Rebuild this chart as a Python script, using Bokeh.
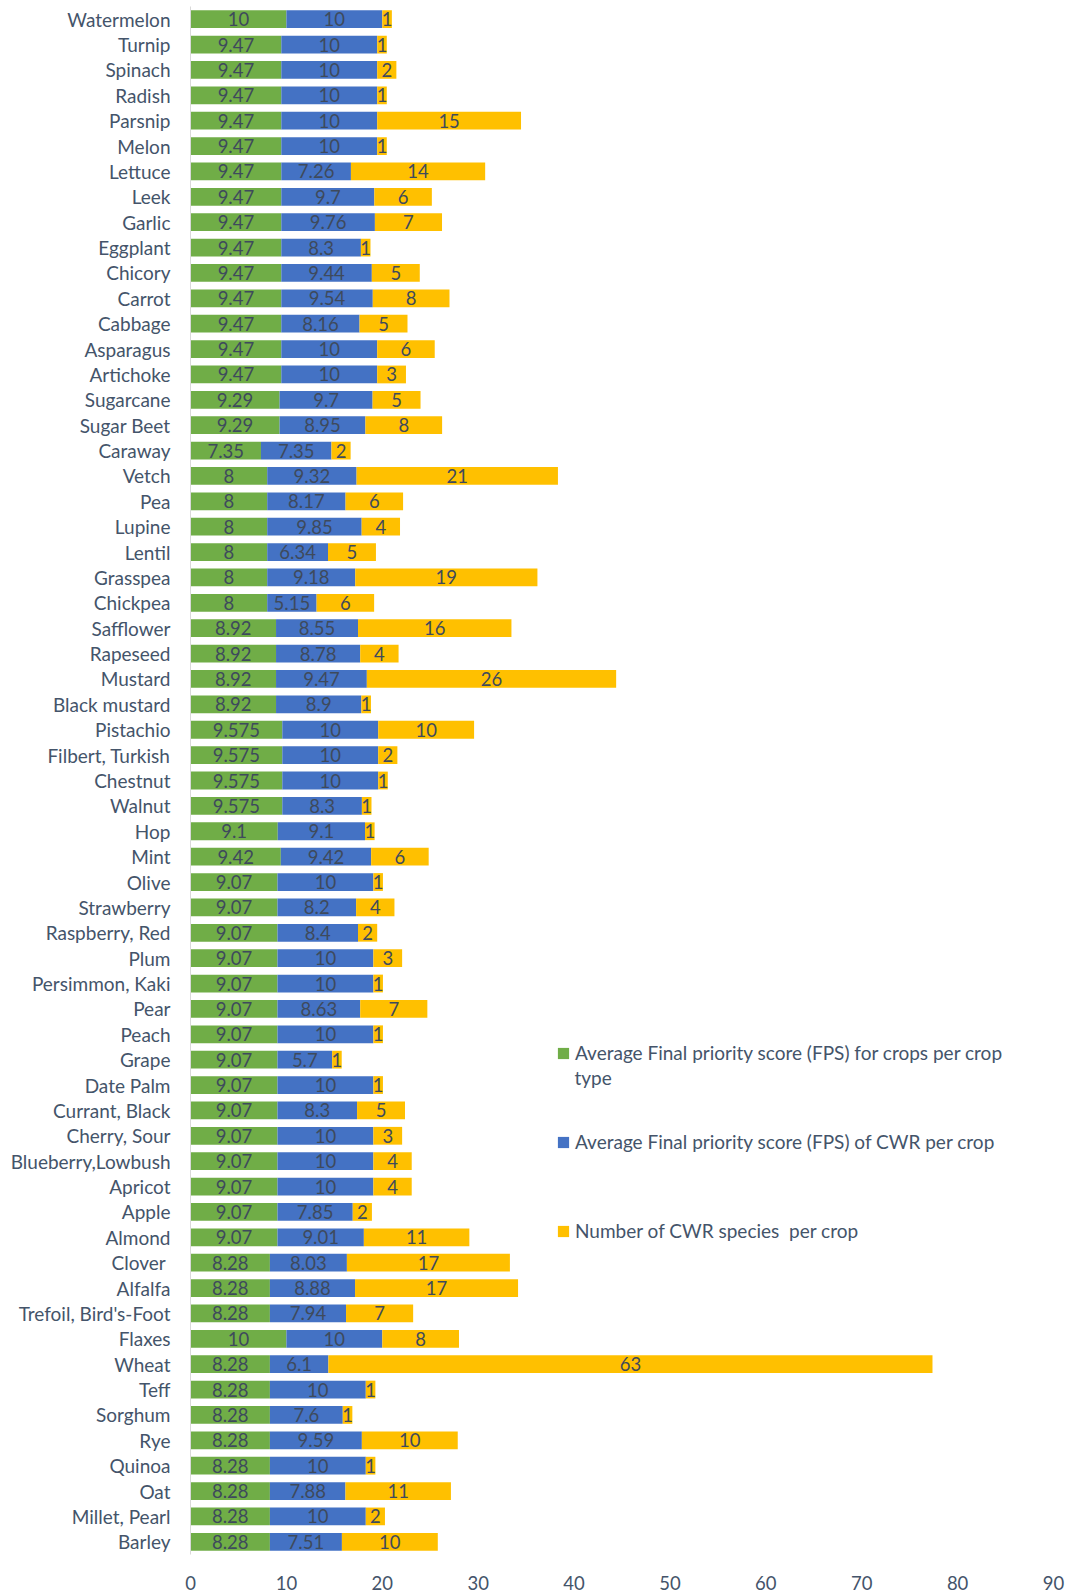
from bokeh.plotting import figure
from bokeh.models import ColumnDataSource, FactorRange, Range1d, FixedTicker, Legend, LegendItem, Label
from bokeh.core.properties import value
from bokeh.embed import file_html
from bokeh.resources import INLINE
import numpy as np

crops = ["Watermelon", "Turnip", "Spinach", "Radish", "Parsnip", "Melon", "Lettuce", "Leek", "Garlic",
         "Eggplant", "Chicory", "Carrot", "Cabbage", "Asparagus", "Artichoke", "Sugarcane", "Sugar Beet",
         "Caraway", "Vetch", "Pea", "Lupine", "Lentil", "Grasspea", "Chickpea", "Safflower", "Rapeseed",
         "Mustard", "Black mustard", "Pistachio", "Filbert, Turkish", "Chestnut", "Walnut", "Hop", "Mint",
         "Olive", "Strawberry", "Raspberry, Red", "Plum", "Persimmon, Kaki", "Pear", "Peach", "Grape",
         "Date Palm", "Currant, Black", "Cherry, Sour", "Blueberry,Lowbush", "Apricot", "Apple", "Almond",
         "Clover ", "Alfalfa", "Trefoil, Bird's-Foot", "Flaxes", "Wheat", "Teff", "Sorghum", "Rye", "Quinoa",
         "Oat", "Millet, Pearl", "Barley"]

fps_crop = [10, 9.47, 9.47, 9.47, 9.47, 9.47, 9.47, 9.47, 9.47,
            9.47, 9.47, 9.47, 9.47, 9.47, 9.47, 9.29, 9.29,
            7.35, 8, 8, 8, 8, 8, 8, 8.92, 8.92,
            8.92, 8.92, 9.575, 9.575, 9.575, 9.575, 9.1, 9.42,
            9.07, 9.07, 9.07, 9.07, 9.07, 9.07, 9.07, 9.07,
            9.07, 9.07, 9.07, 9.07, 9.07, 9.07, 9.07,
            8.28, 8.28, 8.28, 10, 8.28, 8.28, 8.28, 8.28, 8.28,
            8.28, 8.28, 8.28]

fps_cwr = [10, 10, 10, 10, 10, 10, 7.26, 9.7, 9.76,
           8.3, 9.44, 9.54, 8.16, 10, 10, 9.7, 8.95,
           7.35, 9.32, 8.17, 9.85, 6.34, 9.18, 5.15, 8.55, 8.78,
           9.47, 8.9, 10, 10, 10, 8.3, 9.1, 9.42,
           10, 8.2, 8.4, 10, 10, 8.63, 10, 5.7,
           10, 8.3, 10, 10, 10, 7.85, 9.01,
           8.03, 8.88, 7.94, 10, 6.1, 10, 7.6, 9.59, 10,
           7.88, 10, 7.51]

n_cwr = [1, 1, 2, 1, 15, 1, 14, 6, 7,
         1, 5, 8, 5, 6, 3, 5, 8,
         2, 21, 6, 4, 5, 19, 6, 16, 4,
         26, 1, 10, 2, 1, 1, 1, 6,
         1, 4, 2, 3, 1, 7, 1, 1,
         1, 5, 3, 4, 4, 2, 11,
         17, 17, 7, 8, 63, 1, 1, 10, 1,
         11, 2, 10]

x_ticks = [0, 10, 20, 30, 40, 50, 60, 70, 80, 90]

series_names = ["Average Final priority score (FPS) for crops per crop type",
                "Average Final priority score (FPS) of CWR per crop",
                "Number of CWR species  per crop"]
colors = ["#70AD47", "#4472C4", "#FFC000"]

FONT = "Lato"
TXT = "#44546A"

a = np.array(fps_crop, dtype=float)
b = np.array(fps_cwr, dtype=float)
c = np.array(n_cwr, dtype=float)

source = ColumnDataSource(data=dict(crop=crops, fps_crop=a, fps_cwr=b, n_cwr=c))

p = figure(width=1072, height=1592, output_backend="svg", toolbar_location=None,
           y_range=FactorRange(factors=list(reversed(crops)), range_padding=0),
           x_range=Range1d(0, 90),
           min_border_left=190, min_border_right=19, min_border_top=6, min_border_bottom=38)

renderers = p.hbar_stack(["fps_crop", "fps_cwr", "n_cwr"], y="crop", height=0.7,
                         color=colors, line_color=None, source=source)

# segment labels
lab_x = np.concatenate([a / 2, a + b / 2, a + b + c / 2])
lab_y = crops * 3
lab_t = ["{:g}".format(v) for v in np.concatenate([a, b, c])]
lsrc = ColumnDataSource(data=dict(x=lab_x, y=lab_y, t=lab_t))
p.text(x="x", y="y", text="t", source=lsrc, text_align="center", text_baseline="middle",
       text_font=value(FONT), text_font_size="18.5px", text_color="#3E4A5C")

p.xgrid.visible = False
p.ygrid.visible = False
p.outline_line_color = None

p.xaxis.ticker = FixedTicker(ticks=x_ticks)
p.xaxis.axis_line_color = None
p.xaxis.major_tick_line_color = None
p.xaxis.minor_tick_line_color = None
p.xaxis.major_label_standoff = 15
p.xaxis.major_label_text_font = FONT
p.xaxis.major_label_text_font_size = "18.5px"
p.xaxis.major_label_text_color = TXT

p.yaxis.axis_line_color = "#D9D9D9"
p.yaxis.major_tick_line_color = None
p.yaxis.minor_tick_line_color = None
p.yaxis.major_label_standoff = 14
p.yaxis.major_label_text_font = FONT
p.yaxis.major_label_text_font_size = "19px"
p.yaxis.major_label_text_color = TXT

legend_labels = ["Average Final priority score (FPS) for crops per crop",
                 series_names[1], series_names[2]]
legend_y = [490, 401, 312]
for r, lbl, ly in zip(renderers, legend_labels, legend_y):
    lg = Legend(items=[LegendItem(label=lbl, renderers=[r])], location=(366, ly),
                padding=0, margin=0, border_line_color=None, background_fill_alpha=0,
                glyph_width=14, glyph_height=14, label_standoff=5, label_height=20,
                label_text_font=FONT, label_text_font_size="19px", label_text_color=TXT)
    p.add_layout(lg)

p.add_layout(Label(x=384, y=477, x_units="screen", y_units="screen", text="type",
                   text_baseline="middle", text_font=FONT, text_font_size="19px", text_color=TXT))

open("out.html", "w").write(file_html(p, INLINE))
